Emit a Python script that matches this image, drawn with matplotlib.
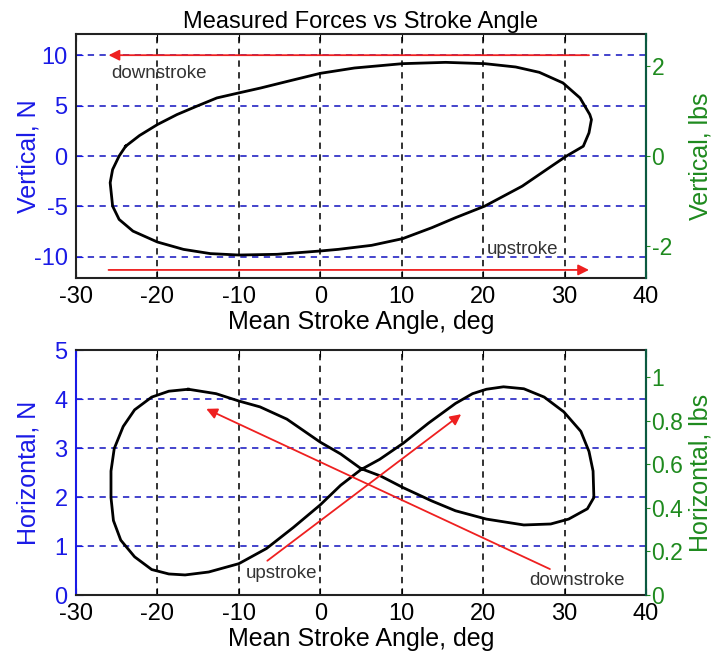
import matplotlib
matplotlib.use("Agg")
import matplotlib.pyplot as plt
from matplotlib.ticker import FuncFormatter

plt.rcParams['font.family'] = ['Liberation Sans', 'DejaVu Sans']
plt.rcParams['axes.unicode_minus'] = False

N_PER_LB = 4.448

# Top panel: vertical force loop (deg, N)
top_angle = [-23.9, -22.2, -20.0, -17.6, -15.2, -12.7, -10.0, -7.3, -4.0, 0.0, 4.2, 10.1,
             15.4, 20.2, 24.0, 26.9, 29.8, 31.9, 33.1, 33.3, 33.0, 32.3, 30.2, 28.1,
             24.8, 20.2, 16.6, 13.7, 10.1, 6.3, 2.2, 0.0, -5.3, -10.0, -13.5, -16.8,
             -20.0, -23.0, -24.7, -25.5, -25.8, -25.5, -24.7, -23.9]
top_force = [0.97, 2.03, 3.12, 4.11, 4.93, 5.76, 6.26, 6.75, 7.41, 8.2, 8.73, 9.16,
             9.29, 9.16, 8.83, 8.30, 7.25, 5.76, 4.11, 3.61, 2.30, 0.97, -0.02, -1.17,
             -2.99, -4.97, -6.12, -7.11, -8.20, -8.86, -9.26, -9.42, -9.75, -9.82, -9.68, -9.26,
             -8.53, -7.45, -6.29, -4.97, -2.65, -1.34, 0.0, 0.97]

# Bottom panel: horizontal force figure-eight (deg, N)
bot_angle = [-16.2, -12.8, -10.0, -7.4, -4.1, 0.0, 2.5, 5.0, 7.4, 10.2, 13.7, 16.6,
             20.4, 25.0, 28.3, 30.5, 32.8, 33.6, 33.5, 33.0, 32.0, 29.9, 27.5, 25.0,
             22.5, 20.4, 18.7, 16.6, 13.3, 10.2, 7.3, 5.0, 2.5, 0.0, -3.3, -6.6,
             -10.0, -13.7, -16.6, -18.6, -20.7, -22.8, -24.5, -25.4, -25.7, -25.7, -25.3,
             -24.2, -22.8, -20.7, -18.6, -16.2]
bot_force = [4.20, 4.11, 3.96, 3.84, 3.59, 3.12, 2.88, 2.58, 2.43, 2.19, 1.92, 1.72,
             1.55, 1.43, 1.45, 1.55, 1.76, 1.99, 2.53, 2.93, 3.34, 3.74, 4.04, 4.21,
             4.25, 4.20, 4.11, 3.91, 3.51, 3.10, 2.77, 2.56, 2.24, 1.84, 1.38, 0.95,
             0.64, 0.47, 0.41, 0.43, 0.52, 0.78, 1.12, 1.52, 1.99, 2.53, 2.99,
             3.44, 3.78, 4.04, 4.16, 4.20]

x_ticks = [-30, -20, -10, 0, 10, 20, 30, 40]
top_yticks = [-10, -5, 0, 5, 10]
top_rticks = [-2, 0, 2]
bot_yticks = [0, 1, 2, 3, 4, 5]
bot_rticks = [0, 0.2, 0.4, 0.6, 0.8, 1]

# annotation arrows: (start, end) in data coords
top_arrows = [((33.0, 10.0), (-26.0, 10.0)), ((-26.0, -11.3), (33.0, -11.3))]
top_texts = [("downstroke", -25.7, 8.2), ("upstroke", 20.4, -9.3)]
bot_arrows = [((-6.5, 0.70), (17.3, 3.69)), ((28.2, 0.53), (-14.0, 3.80))]
bot_texts = [("upstroke", -9.2, 0.43), ("downstroke", 25.7, 0.30)]

BLUE = '#1a1ae6'
GREEN = '#1e8a1e'
RSPINE = '#0b5a40'
RED = '#ee2020'
TXT = '#333333'
FS = 17
LFS = 18

fig = plt.figure(figsize=(7.12, 6.58), dpi=100)
ax1 = fig.add_axes([0.1067, 0.5775, 0.8006, 0.3708])
ax2 = fig.add_axes([0.1067, 0.0957, 0.8006, 0.3723])


def style(ax, ylim, yticks, rticks, ylab, rlab, left_spine):
    ax.set_xlim(-30, 40)
    ax.set_ylim(*ylim)
    ax.set_xticks(x_ticks)
    ax.set_yticks(yticks)
    ax.tick_params(axis='x', direction='in', top=True, labelsize=FS, length=5, pad=6)
    ax.tick_params(axis='y', direction='in', labelsize=FS, labelcolor=BLUE, color=BLUE,
                   length=5, pad=6)
    for y in yticks:
        ax.axhline(y, color='#3535c8', ls=(0, (3.5, 3)), lw=1.3, zorder=1)
    for x in x_ticks[1:-1]:
        ax.axvline(x, color='#222222', ls=(0, (3.5, 3)), lw=1.3, zorder=1)
    for s in ('top', 'bottom'):
        ax.spines[s].set_color('#222222')
        ax.spines[s].set_linewidth(1.5)
    ax.spines['left'].set_color(left_spine)
    ax.spines['left'].set_linewidth(1.5)
    ax.spines['right'].set_color(RSPINE)
    ax.spines['right'].set_linewidth(1.5)
    ax.set_ylabel(ylab, color=BLUE, fontsize=LFS)
    ax.yaxis.set_label_coords(-0.062, 0.5)
    ax.set_xlabel('Mean Stroke Angle, deg', fontsize=LFS, labelpad=1)
    r = ax.twinx()
    r.set_ylim(ylim[0] / N_PER_LB, ylim[1] / N_PER_LB)
    r.set_yticks(rticks)
    r.yaxis.set_major_formatter(FuncFormatter(lambda v, p: ('%g' % v)))
    r.tick_params(axis='y', direction='out', labelsize=16.5, labelcolor=GREEN, color=GREEN,
                  length=3, pad=1)
    r.spines['right'].set_color(RSPINE)
    r.spines['right'].set_linewidth(1.5)
    for s in ('top', 'bottom', 'left'):
        r.spines[s].set_visible(False)
    r.set_ylabel(rlab, color=GREEN, fontsize=LFS)
    r.yaxis.set_label_coords(1.074, 0.5)
    return r


style(ax1, (-12.1, 12.1), top_yticks, top_rticks, 'Vertical, N', 'Vertical, lbs', '#222222')
style(ax2, (0, 5), bot_yticks, bot_rticks, 'Horizontal, N', 'Horizontal, lbs', BLUE)

ax1.plot(top_angle, top_force, color='black', lw=2.0, zorder=3, solid_joinstyle='round')
ax2.plot(bot_angle, bot_force, color='black', lw=2.0, zorder=3, solid_joinstyle='round')

for ax, arrows, texts in ((ax1, top_arrows, top_texts), (ax2, bot_arrows, bot_texts)):
    for (s, e) in arrows:
        ax.annotate('', xy=e, xytext=s,
                    arrowprops=dict(arrowstyle='-|>', color=RED, lw=1.3,
                                    mutation_scale=16, shrinkA=0, shrinkB=0), zorder=4)
    for (t, x, y) in texts:
        ax.text(x, y, t, fontsize=13.5, color=TXT, ha='left', va='center', zorder=5)

ax1.set_title('Measured Forces vs Stroke Angle', fontsize=17, pad=4)

fig.savefig('out.png', dpi=100)
